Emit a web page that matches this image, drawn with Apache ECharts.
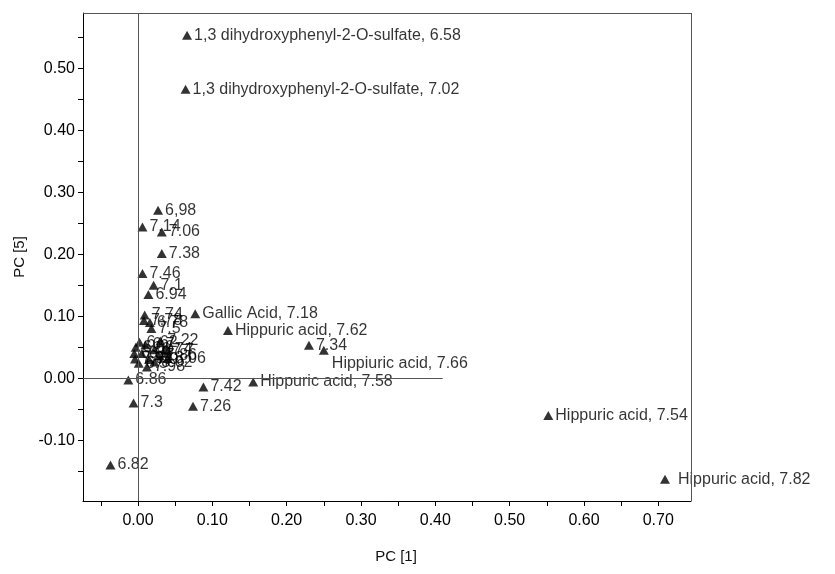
<!DOCTYPE html>
<html>
<head>
<meta charset="utf-8">
<script src="https://cdn.jsdelivr.net/npm/echarts@6/dist/echarts.min.js"></script>
<style>
html,body{margin:0;padding:0;background:#fff;}
#main{width:835px;height:574px;}
</style>
</head>
<body>
<div id="main"></div>
<script>
// ---- data ----
var pointLabels = [
  "1,3 dihydroxyphenyl-2-O-sulfate, 6.58",
  "1,3 dihydroxyphenyl-2-O-sulfate, 7.02",
  "6,98", "7.14", "7.06", "7.38", "7.46", "7.1", "6.94",
  "7.74", "Gallic Acid, 7.18", "Hippuric acid, 7.62", "7.34",
  "Hippiuric acid, 7.66", "Hippuric acid, 7.58", "7.42", "7.26", "7.3",
  "6.86", "6.82", "Hippuric acid, 7.54", "Hippuric acid, 7.82",
  "7.78", "6.78", "7.5", "7.22", "6.62", "6.66", "6.7", "6.74",
  "6.9", "7.9", "7.94", "7.86", "7.98", "7.7", "6.54", "6.5", "8.02", "8.06"
];
var pc1 = [
  0.066, 0.064,
  0.027, 0.006, 0.032, 0.032, 0.006, 0.021, 0.014,
  0.009, 0.077, 0.121, 0.230,
  0.250, 0.155, 0.088, 0.074, -0.006,
  -0.013, -0.037, 0.552, 0.709,
  0.008, 0.016, 0.018, 0.030, 0.002, -0.003, 0.010, 0.022,
  0.005, 0.015, -0.004, 0.028, 0.012, 0.036, -0.005, 0.001, 0.022, 0.040
];
var pc5 = [
  0.553, 0.466,
  0.271, 0.244, 0.236, 0.201, 0.169, 0.150, 0.135,
  0.102, 0.104, 0.077, 0.053,
  0.045, -0.006, -0.014, -0.045, -0.040,
  -0.003, -0.140, -0.060, -0.163,
  0.093, 0.090, 0.080, 0.060, 0.058, 0.050, 0.054, 0.046,
  0.040, 0.030, 0.031, 0.036, 0.018, 0.045, 0.040, 0.024, 0.026, 0.032
];
var xTicks = [-0.05, 0, 0.05, 0.1, 0.15, 0.2, 0.25, 0.3, 0.35, 0.4, 0.45, 0.5, 0.55, 0.6, 0.65, 0.7];
var xTickLabels = [0, 0.1, 0.2, 0.3, 0.4, 0.5, 0.6, 0.7];
var yTicks = [-0.15, -0.1, -0.05, 0, 0.05, 0.1, 0.15, 0.2, 0.25, 0.3, 0.35, 0.4, 0.45, 0.5, 0.55];
var yTickLabels = [-0.1, 0, 0.1, 0.2, 0.3, 0.4, 0.5];

var FONT = '"Liberation Sans", Arial, sans-serif';
var data = pointLabels.map(function (lab, i) {
  var item = { value: [pc1[i], pc5[i]], name: lab };
  if (lab === "Hippuric acid, 7.82") item.label = { distance: 8 };
  if (lab === "Hippiuric acid, 7.66") item.label = { position: [13, 10] };
  return item;
});

var chart = echarts.init(document.getElementById('main'), null, { renderer: 'canvas' });
chart.setOption({
  animation: false,
  backgroundColor: '#ffffff',
  grid: { left: 83, top: 13, width: 608, height: 488, containLabel: false },
  xAxis: {
    type: 'value', min: -0.074, max: 0.744,
    name: 'PC [1]', nameLocation: 'middle', nameGap: 48,
    nameTextStyle: { fontFamily: FONT, fontSize: 15, color: '#111', padding: [0, 0, 0, 18] },
    axisLine: { show: true, onZero: false, lineStyle: { color: '#000', width: 1 } },
    axisTick: { show: true, length: 5, customValues: xTicks, lineStyle: { color: '#000' } },
    axisLabel: { customValues: xTickLabels, margin: 12, fontFamily: FONT, fontSize: 16, color: '#000',
      formatter: function (v) { return v.toFixed(2); } },
    splitLine: { show: false }
  },
  yAxis: {
    type: 'value', min: -0.198, max: 0.589,
    name: 'PC [5]', nameLocation: 'middle', nameGap: 55,
    nameTextStyle: { fontFamily: FONT, fontSize: 15, color: '#111' },
    axisLine: { show: true, onZero: false, lineStyle: { color: '#000', width: 1 } },
    axisTick: { show: true, length: 5, customValues: yTicks, lineStyle: { color: '#000' } },
    axisLabel: { customValues: yTickLabels, margin: 8, fontFamily: FONT, fontSize: 16, color: '#000',
      formatter: function (v) { return v.toFixed(2); } },
    splitLine: { show: false }
  },
  series: [{
    type: 'scatter',
    symbol: 'triangle',
    symbolSize: [10, 9],
    itemStyle: { color: '#000' },
    label: {
      show: true, position: 'right', distance: 2,
      formatter: '{b}', fontFamily: FONT, fontSize: 16, color: '#000'
    },
    labelLayout: { hideOverlap: false },
    markLine: {
      silent: true, symbol: 'none', animation: false,
      label: { show: false },
      lineStyle: { color: '#555', width: 1, type: 'solid' },
      data: [
        [{ coord: [0, -0.198] }, { coord: [0, 0.589] }],
        [{ coord: [-0.074, 0] }, { coord: [0.41, 0] }],
        [{ coord: [-0.074, 0.589] }, { coord: [0.744, 0.589] }],
        [{ coord: [0.744, 0.589] }, { coord: [0.744, -0.198] }]
      ]
    },
    data: data
  }]
});
</script>
</body>
</html>
